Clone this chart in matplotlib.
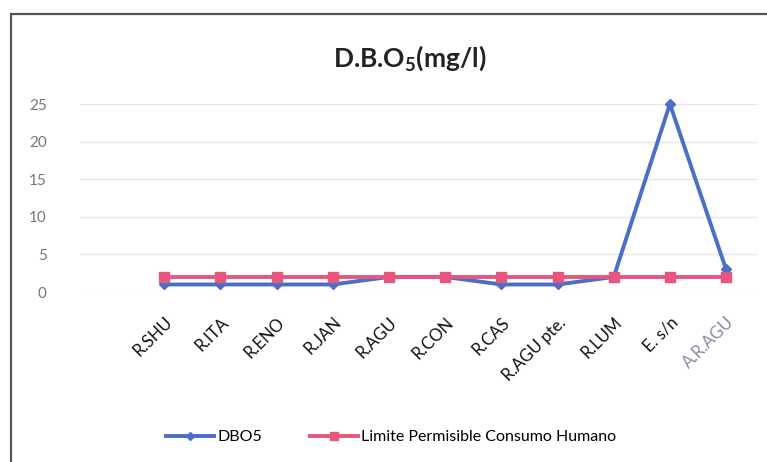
import matplotlib.pyplot as plt
from matplotlib.patches import Rectangle

# sampling points and values
estaciones = ['R.SHU', 'R.ITA', 'R.ENO', 'R.JAN', 'R.AGU', 'R.CON', 'R.CAS',
              'R.AGU pte.', 'R.LUM', 'E. s/n', 'A.R.AGU']
dbo5 = [1, 1, 1, 1, 2, 2, 1, 1, 2, 25, 3]
limite = [2, 2, 2, 2, 2, 2, 2, 2, 2, 2, 2]
y_ticks = [0, 5, 10, 15, 20, 25]

plt.rcParams['font.family'] = ['Lato', 'DejaVu Sans']

fig = plt.figure(figsize=(7.67, 4.62), dpi=100)
W, H = 767, 462

# chart border
fig.patches.append(Rectangle((11 / W, -0.1), 1.1, 1 - 14 / H + 0.1,
                             transform=fig.transFigure, fill=False,
                             edgecolor='#555555', linewidth=1.6))

ax = fig.add_axes([80 / W, 1 - 292 / H, (757 - 80) / W, (292 - 104) / H])
x = list(range(len(estaciones)))

ax.plot(x, limite, color='#E8557E', linewidth=2.8, marker='s', markersize=7,
        clip_on=False, zorder=3, label='Limite Permisible Consumo Humano')
ax.plot(x, dbo5, color='#4A6FCB', linewidth=2.8, marker='D', markersize=5.5,
        clip_on=False, zorder=2, label='DBO5')

ax.set_xlim(-1.5, 10.55)
ax.set_ylim(0, 25)
ax.set_yticks(y_ticks)
ax.grid(axis='y', color='#e6e6e6', linewidth=1)
ax.set_axisbelow(True)
for s in ax.spines.values():
    s.set_visible(False)
ax.tick_params(length=0)
ax.tick_params(axis='y', labelsize=11, labelcolor='#777777', pad=24)

ax.set_xticks(x)
ax.set_xticklabels(estaciones, rotation=45, ha='right', rotation_mode='anchor',
                   fontsize=12, color='#111111')
ax.get_xticklabels()[-1].set_color('#8a8aa8')
ax.tick_params(axis='x', pad=16)

fig.text(410 / W, 1 - 58 / H, r'D.B.O$_{\mathregular{5}}$(mg/l)', ha='center',
         va='center', fontsize=19, fontweight='bold', color='#222222')

handles, labels = ax.get_legend_handles_labels()
fig.legend(handles[::-1], labels[::-1], loc='center', ncol=2,
           bbox_to_anchor=(391 / W, 1 - 437 / H), frameon=False, fontsize=11.5,
           handlelength=3.0, columnspacing=3.0, handletextpad=0.2,
           markerscale=0.8)

fig.savefig('out.png', dpi=100)
